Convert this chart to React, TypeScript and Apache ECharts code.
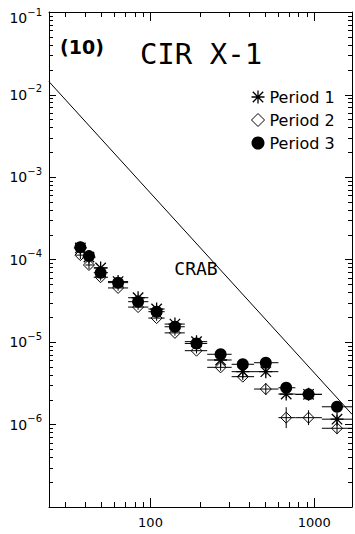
import React, { useEffect, useRef } from 'react';
import * as echarts from 'echarts';

// Energy channels (keV) and their bin edges
const energies = [37.3, 42.1, 49.6, 63.4, 84, 109, 141, 191, 268, 366, 506, 674, 923, 1377];
const binLow = [35, 40, 45, 55, 73, 97, 122, 162, 222, 313, 429, 604, 767, 1113];
const binHigh = [40, 45, 55, 73, 97, 122, 162, 222, 313, 429, 604, 767, 1113, 1700];

// Photon flux per period
const period1 = [1.38e-4, 1.07e-4, 7.9e-5, 5.4e-5, 3.44e-5, 2.51e-5, 1.65e-5, 1.01e-5, 6.05e-6, 4.37e-6, 4.37e-6, 2.34e-6, 2.32e-6, 1.16e-6];
const period2 = [1.13e-4, 8.58e-5, 6.1e-5, 4.52e-5, 2.65e-5, 1.95e-5, 1.29e-5, 7.85e-6, 4.93e-6, 3.8e-6, 2.69e-6, 1.21e-6, 1.21e-6, 9.0e-7];
const period3 = [1.41e-4, 1.10e-4, 6.92e-5, 5.24e-5, 3.08e-5, 2.33e-5, 1.53e-5, 9.6e-6, 7.1e-6, 5.37e-6, 5.61e-6, 2.79e-6, 2.32e-6, 1.64e-6];

// Multiplicative 1-sigma flux errors
const period1Err = [1.08, 1.08, 1.08, 1.08, 1.08, 1.08, 1.08, 1.08, 1.1, 1.1, 1.1, 1.12, 1.12, 1.12];
const period2Err = [1.12, 1.12, 1.1, 1.08, 1.08, 1.08, 1.08, 1.08, 1.1, 1.1, 1.18, 1.34, 1.23, 1.18];
const period3Err = [1.07, 1.07, 1.07, 1.07, 1.07, 1.07, 1.07, 1.07, 1.08, 1.08, 1.08, 1.1, 1.1, 1.1];

// Crab reference spectrum
const crabEnergy = [24, 1700];
const crabFlux = [1.43e-2, 1.33e-6];

// Axis ranges and tick values
const xMin = 24;
const xMax = 1700;
const yMin = 1e-7;
const yMax = 1e-1;
const xMajorTicks = [100, 1000];
const xMinorTicks = [30, 40, 50, 60, 70, 80, 90, 200, 300, 400, 500, 600, 700, 800, 900];
const yDecades = [1e-7, 1e-6, 1e-5, 1e-4, 1e-3, 1e-2, 1e-1];
const yMantissas = [2, 3, 4, 5, 6, 7, 8, 9];

const ASTERISK =
  'path://M9,0L11,0L11,20L9,20Z M0,9L20,9L20,11L0,11Z M2.7,1.3L18.7,17.3L17.3,18.7L1.3,2.7Z M18.7,2.7L2.7,18.7L1.3,17.3L17.3,1.3Z';

const FONT = 'DejaVu Sans';
const MONO = 'DejaVu Sans Mono';

function errorBarSeries(values: number[], errs: number[]) {
  return {
    type: 'custom',
    silent: true,
    z: 4,
    data: energies.map((e, i) => [e, values[i], binLow[i], binHigh[i], values[i] / errs[i], values[i] * errs[i]]),
    renderItem: (_params: any, api: any) => {
      const x = api.value(0);
      const y = api.value(1);
      const a = api.coord([api.value(2), y]);
      const b = api.coord([api.value(3), y]);
      const c = api.coord([x, api.value(4)]);
      const d = api.coord([x, api.value(5)]);
      const style = { stroke: '#000', lineWidth: 1 };
      return {
        type: 'group',
        children: [
          { type: 'line', shape: { x1: a[0], y1: a[1], x2: b[0], y2: b[1] }, style },
          { type: 'line', shape: { x1: c[0], y1: c[1], x2: d[0], y2: d[1] }, style },
        ],
      };
    },
  };
}

function superscript(v: number) {
  const e = Math.round(Math.log10(v));
  if (e <= -7) return '';
  const tag = e === -1 ? 't' : 'n';
  return `{${tag}b|10}{${tag}e|\u2212${-e}}`;
}

export default function App() {
  const ref = useRef<HTMLDivElement>(null);

  useEffect(() => {
    const chart = echarts.init(ref.current!, null, { renderer: 'svg' });

    const xTicks = [
      ...xMajorTicks.map((v) => [v, 1e-4, 1]),
      ...xMinorTicks.map((v) => [v, 1e-4, 0]),
    ];
    const yTicks: number[][] = [];
    yDecades.forEach((d, k) => {
      yTicks.push([100, d, 1]);
      if (k < yDecades.length - 1) yMantissas.forEach((m) => yTicks.push([100, m * d, 0]));
    });

    const lineStyle = { color: '#000', width: 1 };

    chart.setOption({
      animation: false,
      backgroundColor: '#fff',
      textStyle: { fontFamily: FONT, color: '#000' },
      grid: { left: 49, right: 3, top: 12, bottom: 27, containLabel: false, outerBoundsMode: 'none' },
      xAxis: [
        {
          type: 'log',
          min: xMin,
          max: xMax,
          position: 'bottom',
          axisLine: { show: true, lineStyle },
          axisTick: { show: false },
          splitLine: { show: false },
          axisLabel: {
            margin: 9,
            fontSize: 13,
            color: '#000',
            fontFamily: FONT,
            formatter: (v: number) => {
              const l = Math.log10(v);
              return Math.abs(l - Math.round(l)) < 1e-6 ? String(Math.round(v)) : '';
            },
          },
        },
        {
          type: 'log',
          min: xMin,
          max: xMax,
          position: 'top',
          axisLine: { show: true, lineStyle },
          axisTick: { show: false },
          axisLabel: { show: false },
          splitLine: { show: false },
        },
      ],
      yAxis: [
        {
          type: 'log',
          min: yMin,
          max: yMax,
          position: 'left',
          axisLine: { show: true, lineStyle },
          axisTick: { show: false },
          splitLine: { show: false },
          axisLabel: {
            margin: 7,
            color: '#000',
            formatter: superscript,
            rich: {
              nb: { fontSize: 14, lineHeight: 14, padding: [3, 0, 3, 0], fontFamily: FONT, color: '#000' },
              ne: { fontSize: 10, lineHeight: 8, padding: [0, 0, 12, 0], fontFamily: FONT, color: '#000' },
              tb: { fontSize: 14, lineHeight: 14, padding: [15, 0, 3, 0], fontFamily: FONT, color: '#000' },
              te: { fontSize: 10, lineHeight: 8, padding: [12, 0, 12, 0], fontFamily: FONT, color: '#000' },
            },
          },
        },
        {
          type: 'log',
          min: yMin,
          max: yMax,
          position: 'right',
          axisLine: { show: true, lineStyle },
          axisTick: { show: false },
          axisLabel: { show: false },
          splitLine: { show: false },
        },
      ],
      legend: {
        orient: 'vertical',
        left: 251,
        top: 89,
        padding: 0,
        itemGap: 7,
        itemWidth: 13,
        itemHeight: 13,
        selectedMode: false,
        textStyle: { fontFamily: FONT, fontSize: 16, color: '#000', lineHeight: 16 },
        data: [
          { name: 'Period 1', icon: ASTERISK, itemStyle: { color: '#000', borderWidth: 0 } },
          { name: 'Period 2', icon: 'diamond', itemStyle: { color: '#fff', borderColor: '#000', borderWidth: 1 } },
          { name: 'Period 3', icon: 'circle', itemStyle: { color: '#000', borderWidth: 0 } },
        ],
      },
      graphic: [
        {
          type: 'text',
          x: 82,
          y: 47,
          silent: true,
          style: { text: '(10)', fontFamily: FONT, fontWeight: 'bold', fontSize: 19, fill: '#000', align: 'center', verticalAlign: 'middle' },
        },
        {
          type: 'text',
          x: 201,
          y: 54,
          silent: true,
          style: { text: 'CIR X-1', fontFamily: MONO, fontSize: 29, fill: '#000', align: 'center', verticalAlign: 'middle' },
        },
        {
          type: 'text',
          x: 196,
          y: 268,
          silent: true,
          style: { text: 'CRAB', fontFamily: MONO, fontSize: 18, fill: '#000', align: 'center', verticalAlign: 'middle' },
        },
      ],
      series: [
        {
          name: 'Crab',
          type: 'line',
          data: crabEnergy.map((e, i) => [e, crabFlux[i]]),
          showSymbol: false,
          silent: true,
          lineStyle: { color: '#000', width: 1 },
          z: 2,
        },
        {
          name: 'Period 2',
          type: 'scatter',
          data: energies.map((e, i) => [e, period2[i]]),
          symbol: 'diamond',
          symbolSize: 11,
          silent: true,
          itemStyle: { color: '#fff', borderColor: '#000', borderWidth: 1, opacity: 1 },
          z: 3,
        },
        {
          name: 'Period 1',
          type: 'scatter',
          data: energies.map((e, i) => [e, period1[i]]),
          symbol: ASTERISK,
          symbolSize: 13,
          silent: true,
          itemStyle: { color: '#000', opacity: 1 },
          z: 3,
        },
        {
          name: 'Period 3',
          type: 'scatter',
          data: energies.map((e, i) => [e, period3[i]]),
          symbol: 'circle',
          symbolSize: 12,
          silent: true,
          itemStyle: { color: '#000', opacity: 1 },
          z: 3,
        },
        errorBarSeries(period2, period2Err),
        errorBarSeries(period1, period1Err),
        errorBarSeries(period3, period3Err),
        {
          type: 'custom',
          silent: true,
          z: 5,
          data: xTicks,
          renderItem: (params: any, api: any) => {
            const cs = params.coordSys;
            const px = Math.round(api.coord([api.value(0), 1e-4])[0]) + 0.5;
            const len = api.value(2) ? 9 : 5;
            const style = { stroke: '#000', lineWidth: 1 };
            const bottom = cs.y + cs.height;
            return {
              type: 'group',
              children: [
                { type: 'line', shape: { x1: px, y1: bottom, x2: px, y2: bottom - len }, style },
                { type: 'line', shape: { x1: px, y1: cs.y, x2: px, y2: cs.y + len }, style },
              ],
            };
          },
        },
        {
          type: 'custom',
          silent: true,
          z: 5,
          data: yTicks,
          renderItem: (params: any, api: any) => {
            const cs = params.coordSys;
            const py = Math.round(api.coord([100, api.value(1)])[1]) + 0.5;
            const len = api.value(2) ? 7 : 4;
            const style = { stroke: '#000', lineWidth: 1 };
            const right = cs.x + cs.width;
            return {
              type: 'group',
              children: [
                { type: 'line', shape: { x1: cs.x, y1: py, x2: cs.x + len, y2: py }, style },
                { type: 'line', shape: { x1: right, y1: py, x2: right - len, y2: py }, style },
              ],
            };
          },
        },
      ],
    });

    return () => chart.dispose();
  }, []);

  return (
    <div
      ref={ref}
      style={{ position: 'fixed', left: 0, top: 0, width: 355, height: 534, background: '#fff' }}
    />
  );
}
